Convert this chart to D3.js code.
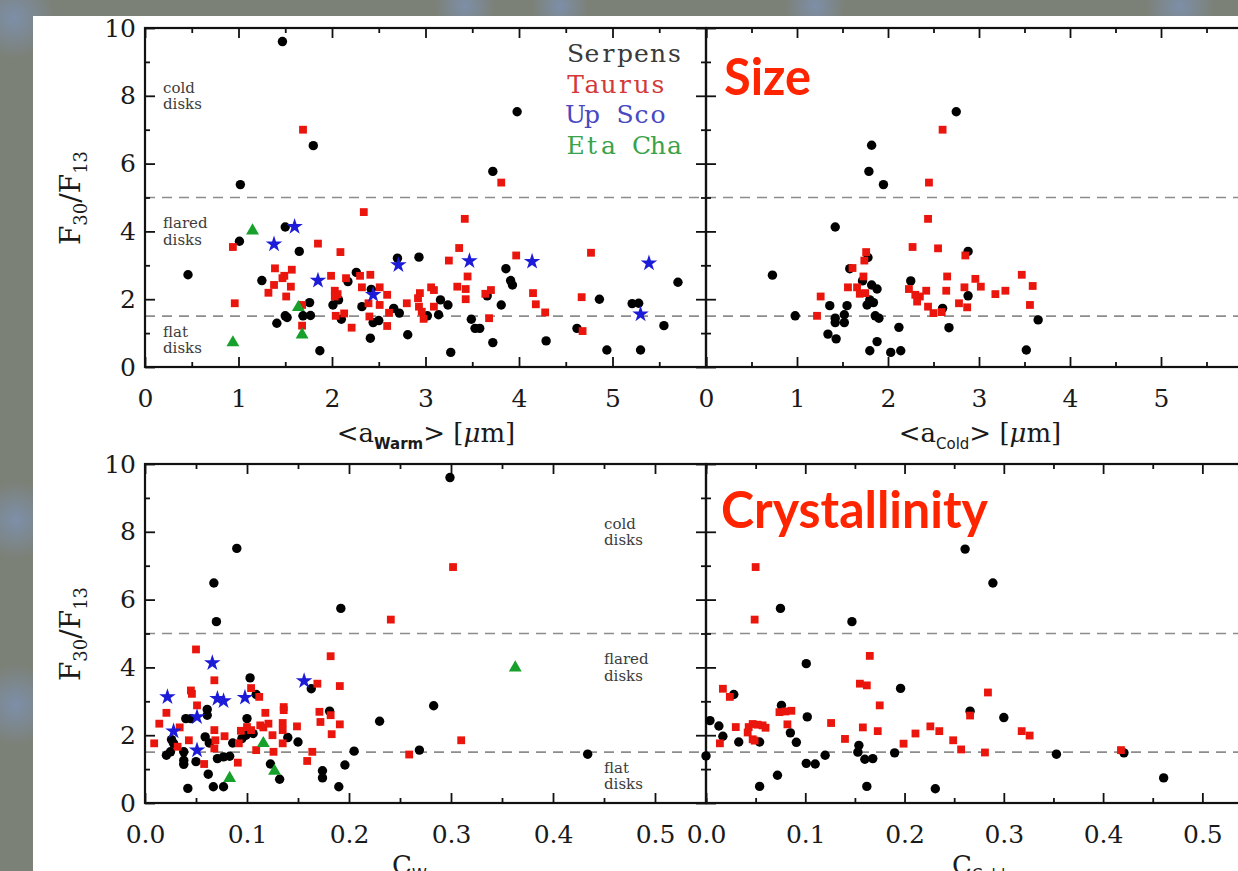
<!DOCTYPE html>
<html>
<head>
<meta charset="utf-8">
<script src="https://cdn.jsdelivr.net/npm/d3@7"></script>
<style>
  html, body { margin: 0; padding: 0; background: #7c8178; }
  svg { display: block; }
</style>
</head>
<body>
<svg id="chart" width="1238" height="871"></svg>
<script>
// ---- Data: F30/F13 against mean grain size and crystallinity ----
// Warm component grain size <a_Warm> [um] vs F30/F13
const serpensWarmSize = [[1.47,9.6],[1.80,6.53],[1.02,5.38],[3.98,7.53],[3.72,5.77],[1.50,4.13],[1.01,3.71],[1.65,3.41],[0.46,2.72],[1.25,2.55],[2.17,2.52],[2.26,2.79],[2.42,2.29],[2.70,3.21],[2.93,3.24],[3.86,2.90],[3.91,2.55],[3.93,2.42],[5.70,2.50],[3.66,2.10],[4.86,2.0],[5.21,1.87],[5.28,1.88],[5.55,1.22],[4.62,1.14],[4.29,0.77],[4.94,0.50],[5.30,0.50],[3.72,0.72],[3.27,0.43],[2.81,0.95],[3.81,1.83],[3.49,1.41],[3.53,1.14],[3.58,1.14],[3.16,1.98],[3.24,1.83],[3.14,1.54],[3.02,1.51],[1.76,1.90],[1.69,1.51],[1.77,1.52],[1.50,1.51],[1.52,1.46],[1.41,1.29],[1.87,0.48],[2.01,1.83],[2.07,1.98],[2.10,1.41],[2.32,1.78],[2.44,1.31],[2.50,1.37],[2.41,0.85],[2.66,1.73],[2.72,1.59]];
const taurusWarmSize = [[1.69,7.0],[3.81,5.44],[2.34,4.57],[3.42,4.37],[0.94,3.54],[1.85,3.64],[2.09,3.39],[3.36,3.51],[3.25,3.14],[3.97,3.29],[4.77,3.37],[1.39,2.91],[1.57,2.87],[1.49,2.69],[1.47,2.62],[1.38,2.42],[1.56,2.37],[1.32,2.19],[1.51,2.08],[1.99,2.69],[2.15,2.62],[2.30,2.69],[2.41,2.72],[2.32,2.35],[2.51,2.35],[2.59,2.13],[3.45,2.67],[3.34,2.37],[3.43,2.30],[3.43,2.0],[3.06,2.35],[3.09,2.27],[2.94,2.18],[2.92,2.03],[2.93,1.78],[2.96,1.63],[2.98,1.42],[3.09,1.78],[3.64,2.16],[3.70,2.27],[3.68,1.44],[4.15,2.18],[4.18,1.85],[4.28,1.61],[4.67,2.06],[4.68,1.06],[0.96,1.88],[1.68,1.83],[1.68,1.22],[2.03,2.25],[2.06,2.15],[2.03,2.08],[2.04,1.51],[2.13,1.58],[2.21,1.16],[2.39,1.88],[2.51,1.83],[2.40,1.49],[2.59,1.21],[2.61,1.60],[2.80,1.88]];
const upScoWarmSize = [[1.60,4.14],[1.38,3.62],[1.85,2.55],[2.44,2.13],[2.71,3.01],[3.47,3.13],[4.14,3.11],[5.39,3.06],[5.30,1.56]];
const etaChaWarmSize = [[1.15,4.02],[1.64,1.76],[1.68,0.95],[0.94,0.72]];

// Cold component grain size <a_Cold> [um] vs F30/F13
const serpensColdSize = [[2.75,7.53],[1.82,6.54],[1.79,5.77],[1.95,5.38],[1.42,4.13],[2.88,3.41],[1.78,3.23],[0.73,2.71],[1.58,2.90],[1.72,2.54],[2.25,2.54],[1.82,2.42],[1.88,2.30],[2.88,2.10],[2.60,1.73],[2.67,1.16],[3.65,1.39],[3.52,0.50],[0.98,1.51],[1.36,1.81],[1.55,1.81],[1.42,1.44],[1.42,1.31],[1.52,1.54],[1.52,1.31],[1.34,0.97],[1.43,0.83],[1.77,1.83],[1.84,1.90],[1.80,1.98],[1.86,1.51],[1.90,1.44],[1.88,0.75],[1.80,0.48],[2.03,0.43],[2.14,0.48],[2.12,1.17]];
const taurusColdSize = [[2.60,7.0],[2.45,5.44],[2.44,4.37],[2.27,3.54],[2.55,3.50],[2.85,3.29],[1.76,3.39],[1.74,3.14],[1.61,2.92],[1.73,2.67],[2.65,2.67],[2.96,2.60],[3.47,2.72],[1.56,2.35],[1.66,2.35],[1.69,2.16],[1.75,2.18],[2.23,2.30],[2.30,2.13],[2.35,2.08],[2.32,1.93],[2.42,2.25],[2.44,1.78],[2.64,2.25],[2.84,2.35],[3.02,2.37],[3.18,2.15],[3.29,2.25],[3.59,2.39],[3.56,1.83],[2.78,1.88],[2.87,1.76],[2.50,1.59],[2.59,1.62],[1.26,2.08],[1.22,1.51]];

// Warm crystallinity C_W vs F30/F13
const serpensWarmCryst = [[0.299,9.6],[0.090,7.51],[0.0675,6.49],[0.070,5.35],[0.192,5.74],[0.283,2.87],[0.230,2.41],[0.269,1.56],[0.434,1.44],[0.103,3.69],[0.109,3.20],[0.163,3.37],[0.181,2.71],[0.205,1.53],[0.196,1.12],[0.174,0.95],[0.174,0.74],[0.190,0.48],[0.150,1.80],[0.140,1.93],[0.132,0.70],[0.123,1.15],[0.106,2.05],[0.100,2.49],[0.099,2.0],[0.095,1.90],[0.086,1.77],[0.083,1.38],[0.077,1.36],[0.071,1.31],[0.063,1.77],[0.059,1.95],[0.061,2.76],[0.061,2.59],[0.040,2.49],[0.045,2.49],[0.062,0.85],[0.050,1.22],[0.038,1.51],[0.038,1.26],[0.038,1.14],[0.042,0.43],[0.067,0.48],[0.077,0.48],[0.021,1.41],[0.025,1.51],[0.028,1.76],[0.026,1.87]];
const taurusWarmCryst = [[0.302,6.96],[0.241,5.41],[0.310,1.85],[0.259,1.43],[0.050,4.53],[0.182,4.33],[0.169,3.52],[0.191,3.45],[0.068,3.62],[0.104,3.39],[0.112,3.13],[0.045,3.32],[0.046,3.22],[0.051,2.88],[0.021,2.66],[0.014,2.34],[0.034,2.23],[0.009,1.76],[0.171,2.69],[0.182,2.59],[0.172,2.39],[0.191,2.32],[0.183,2.03],[0.164,1.51],[0.159,1.24],[0.058,1.15],[0.032,1.66],[0.043,1.85],[0.068,2.15],[0.069,1.85],[0.068,1.61],[0.078,1.97],[0.091,1.19],[0.092,1.76],[0.094,2.13],[0.100,2.24],[0.104,2.15],[0.109,1.56],[0.113,2.29],[0.116,2.23],[0.121,2.34],[0.118,2.66],[0.125,2.0],[0.126,1.51],[0.135,2.36],[0.135,2.15],[0.136,2.83],[0.136,2.74],[0.135,1.76],[0.149,2.26]];
const upScoWarmCryst = [[0.066,4.13],[0.156,3.60],[0.022,3.13],[0.071,3.08],[0.077,3.01],[0.098,3.11],[0.051,2.54],[0.028,2.12],[0.051,1.56]];
const etaChaWarmCryst = [[0.363,3.99],[0.083,0.73],[0.116,1.76],[0.127,0.94]];

// Cold crystallinity C_Cold vs F30/F13
const serpensColdCryst = [[0.261,7.49],[0.289,6.49],[0.075,5.74],[0.147,5.35],[0.101,4.11],[0.196,3.38],[0.028,3.20],[0.076,2.88],[0.266,2.71],[0.102,2.54],[0.300,2.52],[0.004,2.43],[0.013,2.27],[0.085,2.07],[0.017,1.97],[0.033,1.80],[0.054,1.80],[0.091,1.79],[0.154,1.70],[0.153,1.50],[0.190,1.48],[0.160,1.29],[0.168,1.31],[0.120,1.41],[0.101,1.17],[0.110,1.15],[0.0,1.39],[0.072,0.82],[0.054,0.49],[0.162,0.49],[0.231,0.42],[0.353,1.44],[0.421,1.48],[0.461,0.74]];
const taurusColdCryst = [[0.050,6.96],[0.049,5.41],[0.165,4.34],[0.155,3.52],[0.162,3.47],[0.284,3.26],[0.017,3.37],[0.024,3.13],[0.175,2.88],[0.074,2.68],[0.080,2.70],[0.086,2.72],[0.266,2.58],[0.030,2.24],[0.043,2.24],[0.047,2.33],[0.052,2.31],[0.057,2.29],[0.060,2.22],[0.042,2.08],[0.047,1.88],[0.126,2.36],[0.158,2.23],[0.173,2.12],[0.226,2.26],[0.235,2.12],[0.211,2.05],[0.318,2.12],[0.326,1.99],[0.082,2.32],[0.014,1.76],[0.049,1.84],[0.140,1.89],[0.199,1.75],[0.249,1.85],[0.257,1.58],[0.281,1.49],[0.418,1.56]];

// Tick values and labels
const sizeMajorTicks = [0, 1, 2, 3, 4, 5, 6];
const sizeMinorTicks = [0.5, 1.5, 2.5, 3.5, 4.5, 5.5];
const crystMajorTicks = [0, 0.1, 0.2, 0.3, 0.4, 0.5];
const crystMinorTicks = [0.05, 0.15, 0.25, 0.35, 0.45, 0.55];
const ratioMajorTicks = [0, 2, 4, 6, 8, 10];
const ratioMinorTicks = [1, 3, 5, 7, 9];
const regionThresholds = [5, 1.5];
const legendNames = ["Serpens", "Taurus", "Up Sco", "Eta Cha"];
const regionLabels = [["cold", "disks", 8], ["flared", "disks", 4], ["flat", "disks", 0.8]];

// ---- Drawing ----
const svg = d3.select("#chart");
const defs = svg.append("defs");
const SERIF = "'DejaVu Serif', 'Liberation Serif', serif";

// soft bluish glows in the dark surround
const glows = [[14, 18, 40], [16, 520, 38], [16, 705, 40], [465, 6, 30], [560, 6, 28], [815, 6, 30], [1180, 6, 34]];
glows.forEach((g, i) => {
  const grad = defs.append("radialGradient").attr("id", "glow" + i);
  grad.append("stop").attr("offset", "0%").attr("stop-color", "#7e98c8").attr("stop-opacity", 0.6);
  grad.append("stop").attr("offset", "100%").attr("stop-color", "#7e98c8").attr("stop-opacity", 0);
  svg.append("circle").attr("cx", g[0]).attr("cy", g[1]).attr("r", g[2]).attr("fill", `url(#glow${i})`);
});

// white page
svg.append("rect").attr("x", 33).attr("y", 16).attr("width", 1238 - 33).attr("height", 871 - 16).attr("fill", "#ffffff");

// scales
const yTop = d3.scaleLinear().domain([0, 10]).range([367, 28]);
const yBot = d3.scaleLinear().domain([0, 10]).range([803, 464]);
const xWarmSize = d3.scaleLinear().domain([0, 6]).range([145, 706]);
const xColdSize = d3.scaleLinear().domain([0, 6]).range([706, 1252]);
const xWarmCryst = d3.scaleLinear().domain([0, 0.55]).range([145, 706]);
const xColdCryst = d3.scaleLinear().domain([0, 0.55]).range([706, 1252]);

const colors = { serpens: "#000000", taurus: "#ea150c", upsco: "#1c1cd8", etacha: "#18a02c" };

function styleAxis(sel) {
  sel.select(".domain").remove();
  sel.selectAll(".tick line").attr("stroke", "#111").attr("stroke-width", 1.8);
  sel.selectAll("text").attr("fill", "#1a1a1a");
  sel.attr("font-family", SERIF).attr("font-size", 25);
}

function drawPanel(cfg) {
  const { x, y } = cfg;
  const g = svg.append("g");
  const [x0, x1] = x.range();
  const [yb, yt] = y.range();

  // dashed region boundaries
  g.selectAll("line.thr").data(regionThresholds).join("line")
    .attr("x1", x0).attr("x2", x1)
    .attr("y1", d => y(d)).attr("y2", d => y(d))
    .attr("stroke", "#8c8c8c").attr("stroke-width", 1.6).attr("stroke-dasharray", "10,7");

  // bottom axis with labels
  g.append("g").attr("transform", `translate(0,${yb})`)
    .call(d3.axisBottom(x).tickValues(cfg.major).tickSize(-10).tickPadding(22)
      .tickFormat(d => cfg.labelled(d) ? cfg.fmt(d) : ""))
    .call(styleAxis);
  g.append("g").attr("transform", `translate(0,${yb})`)
    .call(d3.axisBottom(x).tickValues(cfg.minor).tickSize(-5).tickFormat(""))
    .call(styleAxis);
  // top axis
  g.append("g").attr("transform", `translate(0,${yt})`)
    .call(d3.axisTop(x).tickValues(cfg.major).tickSize(-10).tickFormat(""))
    .call(styleAxis);
  g.append("g").attr("transform", `translate(0,${yt})`)
    .call(d3.axisTop(x).tickValues(cfg.minor).tickSize(-5).tickFormat(""))
    .call(styleAxis);
  // left axis
  g.append("g").attr("transform", `translate(${x0},0)`)
    .call(d3.axisLeft(y).tickValues(ratioMajorTicks).tickSize(-10).tickPadding(9)
      .tickFormat(d => cfg.yLabels ? d3.format("d")(d) : ""))
    .call(styleAxis);
  g.append("g").attr("transform", `translate(${x0},0)`)
    .call(d3.axisLeft(y).tickValues(ratioMinorTicks).tickSize(-5).tickFormat(""))
    .call(styleAxis);
  // right axis
  g.append("g").attr("transform", `translate(${x1},0)`)
    .call(d3.axisRight(y).tickValues(ratioMajorTicks).tickSize(-10).tickFormat(""))
    .call(styleAxis);
  g.append("g").attr("transform", `translate(${x1},0)`)
    .call(d3.axisRight(y).tickValues(ratioMinorTicks).tickSize(-5).tickFormat(""))
    .call(styleAxis);

  // frame
  g.append("rect").attr("x", x0).attr("y", yt).attr("width", x1 - x0).attr("height", yb - yt)
    .attr("fill", "none").attr("stroke", "#111").attr("stroke-width", 2.2);

  // markers
  const m = g.append("g");
  if (cfg.serpens) m.append("g").selectAll("circle").data(cfg.serpens).join("circle")
    .attr("cx", d => x(d[0])).attr("cy", d => y(d[1])).attr("r", 4.7).attr("fill", colors.serpens);
  if (cfg.taurus) m.append("g").selectAll("rect").data(cfg.taurus).join("rect")
    .attr("x", d => x(d[0]) - 3.9).attr("y", d => y(d[1]) - 3.9).attr("width", 7.8).attr("height", 7.8)
    .attr("fill", colors.taurus);
  if (cfg.upsco) m.append("g").selectAll("path").data(cfg.upsco).join("path")
    .attr("transform", d => `translate(${x(d[0])},${y(d[1])})`)
    .attr("d", d3.symbol(d3.symbolStar, 85)).attr("fill", colors.upsco);
  if (cfg.etacha) m.append("g").selectAll("path").data(cfg.etacha).join("path")
    .attr("transform", d => `translate(${x(d[0])},${y(d[1])})`)
    .attr("d", d3.symbol(d3.symbolTriangle, 72)).attr("fill", colors.etacha);
  return g;
}

drawPanel({ x: xWarmSize, y: yTop, major: sizeMajorTicks, minor: sizeMinorTicks,
  labelled: d => d <= 5, fmt: d3.format("d"), yLabels: true,
  serpens: serpensWarmSize, taurus: taurusWarmSize, upsco: upScoWarmSize, etacha: etaChaWarmSize });
drawPanel({ x: xColdSize, y: yTop, major: sizeMajorTicks, minor: sizeMinorTicks,
  labelled: d => d <= 5, fmt: d3.format("d"), yLabels: false,
  serpens: serpensColdSize, taurus: taurusColdSize });
drawPanel({ x: xWarmCryst, y: yBot, major: crystMajorTicks, minor: crystMinorTicks,
  labelled: () => true, fmt: d3.format(".1f"), yLabels: true,
  serpens: serpensWarmCryst, taurus: taurusWarmCryst, upsco: upScoWarmCryst, etacha: etaChaWarmCryst });
drawPanel({ x: xColdCryst, y: yBot, major: crystMajorTicks, minor: crystMinorTicks,
  labelled: () => true, fmt: d3.format(".1f"), yLabels: false,
  serpens: serpensColdCryst, taurus: taurusColdCryst });

// ---- Axis titles ----
function yTitle(cx, cy) {
  const t = svg.append("text").attr("transform", `translate(${cx},${cy}) rotate(-90)`)
    .attr("text-anchor", "middle").attr("font-family", SERIF).attr("font-size", 28).attr("fill", "#1a1a1a");
  t.append("tspan").text("F");
  t.append("tspan").attr("font-size", 18).attr("dy", 7).text("30");
  t.append("tspan").attr("dy", -7).text("/F");
  t.append("tspan").attr("font-size", 18).attr("dy", 7).text("13");
}
yTitle(80, 198);
yTitle(80, 634);

function sizeTitle(cx, baseline, sub) {
  const t = svg.append("text").attr("x", cx).attr("y", baseline).attr("text-anchor", "middle")
    .attr("font-family", SERIF).attr("font-size", 26).attr("fill", "#1a1a1a");
  t.append("tspan").text("<a");
  t.append("tspan").attr("font-family", "'DejaVu Sans', sans-serif").attr("font-weight", sub === "Warm" ? "bold" : "normal")
    .attr("font-size", 15).attr("dy", 7).text(sub);
  t.append("tspan").attr("dy", -7).text("> [");
  t.append("tspan").attr("font-style", "italic").text("\u03bc");
  t.append("tspan").text("m]");
}
sizeTitle(426, 442, "Warm");
sizeTitle(980, 442, "Cold");

// crystallinity titles sit at the lower edge of the page
function crystTitle(x0, baseline, sub) {
  const t = svg.append("text").attr("x", x0).attr("y", baseline)
    .attr("font-family", SERIF).attr("font-size", 26).attr("fill", "#1a1a1a");
  t.append("tspan").text("C");
  t.append("tspan").attr("font-family", "'DejaVu Sans', sans-serif").attr("font-size", 15).attr("dy", 6).text(sub);
}
crystTitle(392, 874, "W");
crystTitle(952, 874, "Cold");

// ---- Region labels (two separate lines each) ----
function regions(xLeft, y) {
  regionLabels.forEach(([a, b, v]) => {
    [[a, y(v) - 3], [b, y(v) + 13.5]].forEach(([word, yy]) => {
      svg.append("text").attr("x", xLeft).attr("y", yy)
        .attr("font-family", SERIF).attr("font-size", 15).attr("fill", "#3c3c3c").text(word);
    });
  });
}
regions(163, yTop);
regions(604, yBot);

// ---- Legend (fixed-pitch lettering) ----
const legendColors = ["#3a3a3a", "#d23a3a", "#4848c2", "#3aa24a"];
legendNames.forEach((name, i) => {
  const t = svg.append("text").attr("font-family", SERIF).attr("font-size", 25)
    .attr("fill", legendColors[i]).attr("text-anchor", "middle");
  name.split("").forEach((ch, j) => {
    t.append("tspan").attr("x", 575.5 + j * 16.5).attr("y", 62 + i * 30.7).text(ch);
  });
});

// ---- Panel captions ----
svg.append("text").attr("x", 724).attr("y", 95).attr("font-family", "Lato, 'Open Sans', sans-serif")
  .attr("font-weight", "bold").attr("font-size", 52).attr("fill", "#ff2400")
  .attr("textLength", 87).attr("lengthAdjust", "spacingAndGlyphs").text("Size");
svg.append("text").attr("x", 721).attr("y", 528).attr("font-family", "Lato, 'Open Sans', sans-serif")
  .attr("font-weight", "bold").attr("font-size", 52).attr("fill", "#ff2400")
  .attr("textLength", 267).attr("lengthAdjust", "spacingAndGlyphs").text("Crystallinity");
</script>
</body>
</html>
